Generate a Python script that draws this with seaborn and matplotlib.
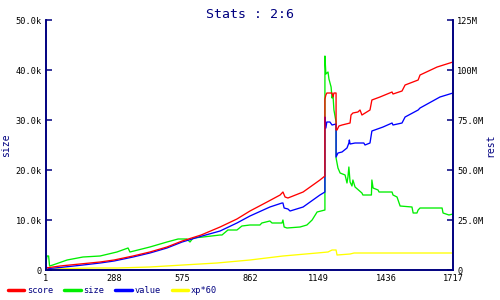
import matplotlib
matplotlib.use("Agg")
import matplotlib.pyplot as plt
import seaborn as sns
import pandas as pd
from matplotlib.lines import Line2D

# ---- data (values in thousands on left axis) ----
score_x = [1, 60, 229, 288, 368, 439, 511, 575, 655, 735, 806, 861, 933, 988, 1000, 1009, 1021, 1085, 1156, 1177,
           1177, 1181, 1185, 1190, 1207, 1211, 1215, 1224, 1224, 1228, 1236, 1249, 1283, 1287, 1295, 1316, 1325,
           1333, 1367, 1375, 1409, 1460, 1464, 1502, 1515, 1570, 1578, 1650, 1717]
score_y = [0.4, 0.8, 1.6, 2.0, 2.8, 3.6, 4.6, 5.8, 7.0, 8.6, 10.2, 11.8, 13.6, 15.0, 15.6, 14.6, 14.4, 15.6, 18.0, 18.8,
           34.2, 35.0, 35.4, 35.4, 35.4, 34.6, 35.4, 35.4, 28.0, 28.0, 28.8, 29.0, 29.4, 31.0, 31.4, 31.6, 32.0,
           31.0, 32.0, 34.0, 34.6, 35.6, 35.2, 35.8, 37.0, 38.0, 39.0, 40.6, 41.6]

size_x = [1, 5, 12, 16, 30, 90, 157, 229, 300, 347, 355, 439, 511, 558, 595, 608, 621, 663, 735, 743, 768, 806, 827,
          861, 903, 911, 945, 954, 996, 1000, 1005, 1017, 1072, 1101, 1123, 1144, 1177,
          1177, 1181, 1190, 1194, 1203, 1207, 1211, 1215, 1224, 1224, 1232, 1241, 1262, 1270, 1274, 1278, 1283,
          1291, 1295, 1304, 1333, 1337, 1373, 1375, 1380, 1401, 1405, 1460, 1464, 1481, 1494, 1544, 1549, 1565,
          1570, 1578, 1671, 1675, 1700, 1717]
size_y = [1.4, 2.8, 2.8, 0.8, 1.0, 2.0, 2.6, 2.8, 3.6, 4.4, 3.6, 4.6, 5.6, 6.2, 6.2, 5.6, 6.4, 6.6, 7.0, 7.0, 8.0, 8.0, 8.8,
          9.0, 9.0, 9.4, 9.8, 9.4, 9.4, 10.0, 8.6, 8.4, 8.6, 9.0, 10.0, 11.6, 12.0,
          42.8, 39.2, 39.6, 38.2, 36.6, 34.4, 35.0, 32.0, 29.6, 22.4, 20.4, 19.4, 19.0, 17.4, 18.6, 20.6, 17.6,
          16.8, 18.0, 16.6, 15.4, 15.0, 15.0, 18.0, 16.4, 16.0, 15.6, 15.6, 15.0, 14.6, 12.8, 12.6, 11.4, 11.4,
          12.0, 12.4, 12.4, 11.4, 11.0, 11.2]

value_x = [1, 14, 60, 157, 229, 288, 368, 439, 511, 575, 659, 735, 806, 861, 945, 996, 1000, 1005, 1021, 1030, 1085,
           1156, 1177, 1177, 1181, 1185, 1198, 1207, 1224, 1224, 1232, 1249, 1270, 1278, 1280, 1283, 1304, 1341,
           1346, 1367, 1375, 1422, 1460, 1464, 1502, 1515, 1570, 1578, 1662, 1717]
value_y = [0.6, 0.3, 0.5, 1.0, 1.4, 1.8, 2.6, 3.4, 4.4, 5.6, 6.8, 7.8, 9.4, 10.8, 12.6, 13.4, 13.4, 12.4, 12.2, 11.8, 12.6,
           15.0, 15.6, 30.6, 28.4, 29.6, 29.6, 29.0, 29.2, 22.6, 23.4, 23.6, 24.4, 25.4, 26.0, 25.2, 25.4, 25.4,
           25.0, 25.4, 27.8, 28.6, 29.4, 29.0, 29.4, 30.6, 32.0, 32.4, 34.6, 35.4]

xp_x = [1, 199, 300, 439, 579, 722, 861, 1000, 1144, 1190, 1207, 1224, 1228, 1283, 1300, 1717]
xp_y = [0.2, 0.4, 0.4, 0.6, 1.0, 1.4, 2.0, 2.8, 3.4, 3.6, 4.0, 4.0, 3.0, 3.2, 3.4, 3.4]

series_names = ["score", "size", "value", "xp*60"]
colors = ["#ff0000", "#00ee00", "#0000ff", "#ffff00"]

x_ticks = [1, 288, 575, 862, 1149, 1436, 1717]
left_ticks = [0, 10, 20, 30, 40, 50]
left_labels = ["0", "10.0k", "20.0k", "30.0k", "40.0k", "50.0k"]
right_ticks = [0, 25, 50, 75, 100, 125]
right_labels = ["0", "25.0M", "50.0M", "75.0M", "100M", "125M"]

frames = []
for name, xs, ys in zip(series_names, [score_x, size_x, value_x, xp_x], [score_y, size_y, value_y, xp_y]):
    frames.append(pd.DataFrame({"x": xs, "y": ys, "series": name, "order": range(len(xs))}))
df = pd.concat(frames, ignore_index=True)

sns.set_theme(style="white")
plt.rcParams["font.family"] = ["DejaVu Sans Mono", "DejaVu Sans"]
navy = "#000080"

fig = plt.figure(figsize=(5, 3), dpi=100)
ax = fig.add_axes([0.092, 0.1, 0.814, 0.8333])

draw_order = ["xp*60", "size", "value", "score"]
for name in draw_order:
    sub = df[df.series == name]
    sns.lineplot(data=sub, x="x", y="y", color=colors[series_names.index(name)],
                 estimator=None, sort=False, ax=ax, lw=0.95, legend=False)

ax.set_xlim(1, 1717)
ax.set_ylim(0, 50)
ax.set_xticks(x_ticks)
ax.set_xticklabels([str(t) for t in x_ticks])
ax.set_yticks(left_ticks)
ax.set_yticklabels(left_labels)
ax.set_xlabel("")
ax.set_ylabel("size", color=navy, fontsize=7, labelpad=3)

ax2 = ax.twinx()
ax2.set_ylim(0, 125)
ax2.set_yticks(right_ticks)
ax2.set_yticklabels(right_labels)
ax2.set_ylabel("rest", color=navy, fontsize=7, labelpad=1)

for a in (ax, ax2):
    for side in ["left", "right", "bottom"]:
        a.spines[side].set_color(navy)
        a.spines[side].set_linewidth(1.2)
    a.spines["top"].set_visible(False)
    a.tick_params(direction="in", length=4, width=1.1, color=navy, labelsize=6.2, labelcolor="black", pad=3)
ax.tick_params(axis="y", right=False)
ax2.tick_params(axis="y", left=False)
ax.grid(False)
ax2.grid(False)

fig.text(0.5, 0.975, "Stats : 2:6", ha="center", va="top", color=navy, fontsize=9.5)

handles = [Line2D([0], [0], color=c, lw=2.5) for c in colors]
leg = fig.legend(handles, series_names, loc="lower left", bbox_to_anchor=(0.0, -0.01), ncol=4,
                 frameon=False, fontsize=6.2, handlelength=1.9, handletextpad=0.3, columnspacing=1.3)
for t in leg.get_texts():
    t.set_color(navy)

fig.savefig("out.png", dpi=100)
